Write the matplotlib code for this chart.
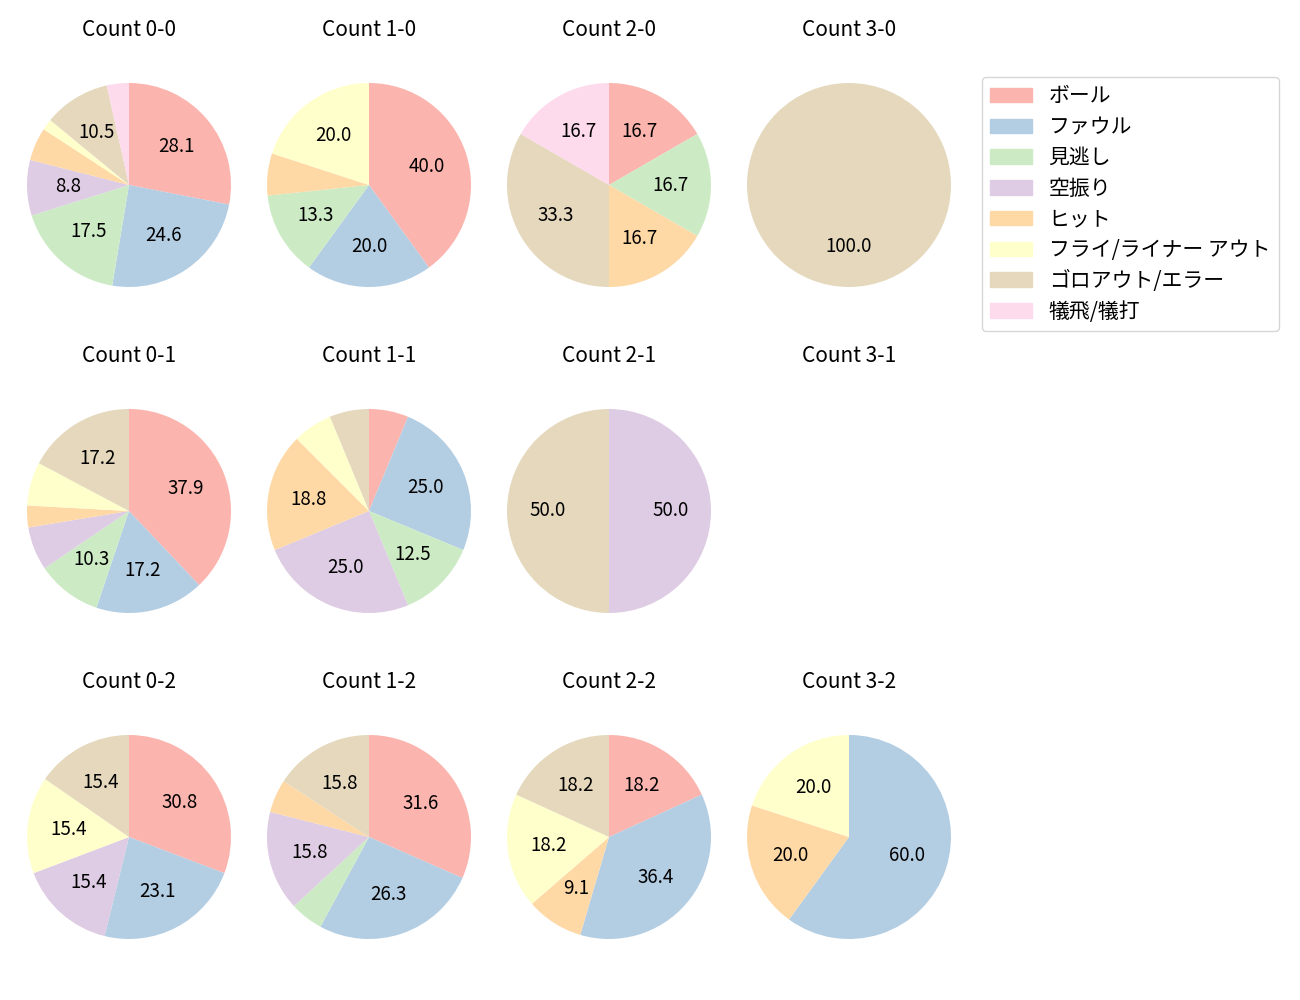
import matplotlib.pyplot as plt
import numpy as np

plt.rcParams['font.family'] = ['Noto Sans CJK JP', 'DejaVu Sans']

categories = ['ボール', 'ファウル', '見逃し', '空振り', 'ヒット',
              'フライ/ライナー アウト', 'ゴロアウト/エラー', '犠飛/犠打']
colors = plt.cm.Pastel1(np.arange(8))

# counts per category, order as in categories
counts = {
    '0-0': [16, 14, 10, 5, 3, 1, 6, 2],
    '1-0': [6, 3, 2, 0, 1, 3, 0, 0],
    '2-0': [1, 0, 1, 0, 1, 0, 2, 1],
    '3-0': [0, 0, 0, 0, 0, 0, 1, 0],
    '0-1': [11, 5, 3, 2, 1, 2, 5, 0],
    '1-1': [1, 4, 2, 4, 3, 1, 1, 0],
    '2-1': [0, 0, 0, 1, 0, 0, 1, 0],
    '3-1': [0, 0, 0, 0, 0, 0, 0, 0],
    '0-2': [4, 3, 0, 2, 0, 2, 2, 0],
    '1-2': [6, 5, 1, 3, 1, 0, 3, 0],
    '2-2': [2, 4, 0, 0, 1, 2, 2, 0],
    '3-2': [0, 3, 0, 0, 1, 1, 0, 0],
}

W, H = 1300, 1000
fig = plt.figure(figsize=(13, 10), dpi=100)
size = 255

for r, strikes in enumerate(['0', '1', '2']):
    for c, balls in enumerate(['0', '1', '2', '3']):
        key = balls + '-' + strikes
        cx = 129 + 240 * c
        cy = 185 + 326 * r
        ax = fig.add_axes([(cx - size / 2) / W, 1 - (cy + size / 2) / H, size / W, size / H])
        vals = counts[key]
        ax.set_title('Count ' + key, fontsize=15, pad=15.5)
        if sum(vals) == 0:
            ax.axis('off')
            continue
        ax.pie(vals, colors=colors, startangle=90, counterclock=False,
               autopct=lambda p: f'{p:.1f}' if p >= 7 else '',
               textprops={'fontsize': 13.5})

handles = [plt.Rectangle((0, 0), 1, 1, color=col) for col in colors]
fig.legend(handles, categories, loc='upper left', bbox_to_anchor=(982 / W, 1 - 77 / H),
           borderaxespad=0, fontsize=15, labelspacing=0.42)

fig.savefig('out.png', dpi=100)
